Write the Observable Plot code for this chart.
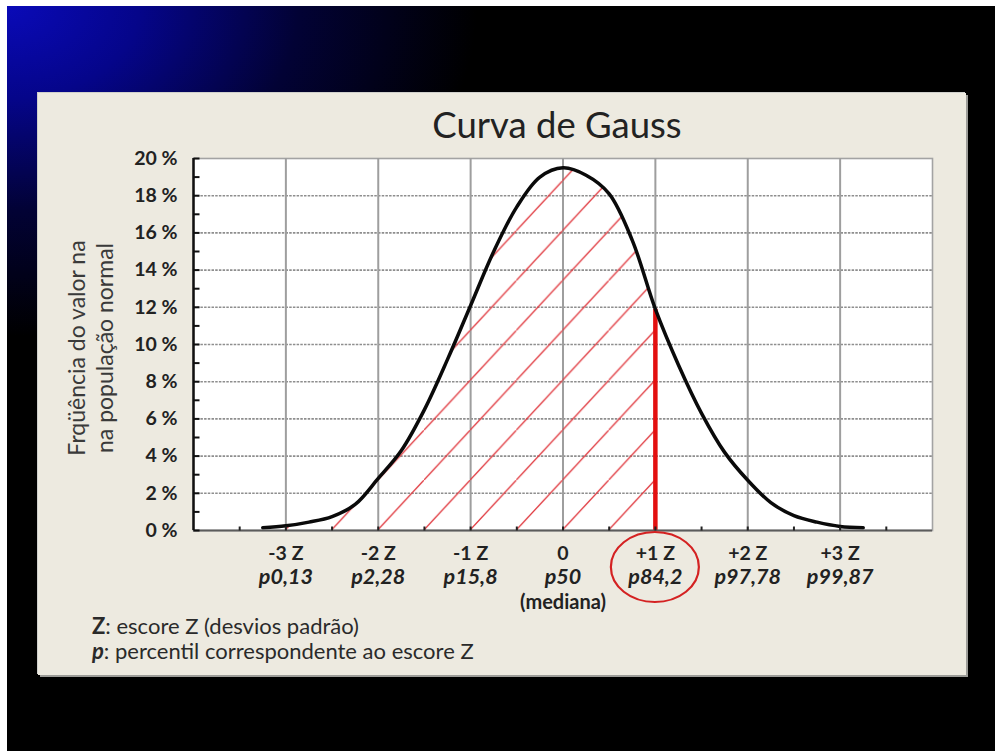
<!DOCTYPE html>
<html><head><meta charset="utf-8">
<script src="https://cdn.jsdelivr.net/npm/d3@7"></script>
<script src="https://cdn.jsdelivr.net/npm/@observablehq/plot@0.6"></script>
<style>
html,body{margin:0;padding:0;background:#fff;}
#root{position:relative;width:995px;height:751px;overflow:hidden;font-family:Lato,"Open Sans",sans-serif;}
#slide{position:absolute;left:7px;top:6px;right:0;bottom:0;background:radial-gradient(ellipse 470px 330px at 0% 0%, #0a0ab8 0%, #05058a 28%, #020235 62%, #000 100%);}
#panel{position:absolute;left:38px;top:93px;width:928px;height:582px;background:#edeae0;box-shadow:2px 2px 0 #9c9c98, -1px -1px 0 #d0d0cc;}
#title{position:absolute;left:187px;width:740px;top:103px;text-align:center;font-size:36.5px;color:#222;line-height:42px;}
#ytitle{position:absolute;left:90px;top:348px;transform:translate(-50%,-50%) rotate(-90deg);white-space:nowrap;text-align:center;font-size:23px;line-height:28px;color:#3a3a3a;}
#notes{position:absolute;left:92px;top:613px;font-size:22px;line-height:25px;color:#2a2a2a;}
#chart{position:absolute;left:0;top:0;}
</style></head>
<body>
<div id="root">
  <div id="slide"></div>
  <div id="panel"></div>
  <div id="title">Curva de Gauss</div>
  <div id="ytitle">Frqüência do valor na<br>na população normal</div>
  <div id="notes"><b>Z</b>: escore Z (desvios padrão)<br><b><i>p</i></b>: percentil correspondente ao escore Z</div>
  <div id="chart"></div>
</div>
<script>
// curve: z score vs frequency (%)
const zScores = [-3.25,-3,-2.75,-2.5,-2.25,-2,-1.75,-1.5,-1.25,-1,-0.75,-0.5,-0.25,0,0.25,0.5,0.75,1,1.25,1.5,1.75,2,2.25,2.5,2.75,3,3.25];
const freqPct = [0.15,0.25,0.45,0.75,1.4,2.8,4.3,6.5,9.2,12.1,15.0,17.4,19.0,19.5,19.1,18.1,15.6,11.9,8.9,6.3,4.2,2.7,1.5,0.8,0.45,0.22,0.15];
const markedZ = 1;
const xGrid = [-3,-2,-1,0,1,2,3];
const xMinor = [-3.5,-3,-2.5,-2,-1.5,-1,-0.5,0,0.5,1,1.5,2,2.5,3,3.5];
const yTicks = [0,2,4,6,8,10,12,14,16,18,20];
const yGrid = [2,4,6,8,10,12,14,16,18];
const yMinor = [0,1,2,3,4,5,6,7,8,9,10,11,12,13,14,15,16,17,18,19,20];
const zLabels = ["-3 Z","-2 Z","-1 Z","0","+1 Z","+2 Z","+3 Z"];
const pLabels = ["p0,13","p2,28","p15,8","p50","p84,2","p97,78","p99,87"];
const medianNote = "(mediana)";

const curve = zScores.map((z,i)=>({z, p: freqPct[i]}));
const shaded = curve.filter(d => d.z <= markedZ);
const markedP = curve.find(d => d.z === markedZ).p;
const labels = xGrid.map((z,i)=>({z, zl: zLabels[i], pl: pLabels[i]}));

const hTick = {draw(ctx){ ctx.moveTo(0,0); ctx.lineTo(6,0); }};
const vTick = {draw(ctx){ ctx.moveTo(0,0); ctx.lineTo(0,-4); }};

const plot = Plot.plot({
  width: 995, height: 751,
  marginLeft: 193, marginRight: 63, marginTop: 158, marginBottom: 221,
  x: {domain: [-4, 4], axis: null},
  y: {domain: [0, 20], axis: null},
  style: {background: "transparent", fontFamily: "Lato, 'Open Sans', sans-serif", overflow: "visible"},
  marks: [
    Plot.frame({fill: "white", stroke: "#a3a3a3", strokeWidth: 1.6}),
    Plot.ruleY(yGrid, {stroke: "#8e8e8e", strokeWidth: 1.6, strokeDasharray: "2.5,1.2"}),
    Plot.ruleX(xGrid, {stroke: "#9e9e9e", strokeWidth: 2}),
    Plot.areaY(shaded, {x: "z", y: "p", fill: "url(#hatch)", curve: "catmull-rom"}),
    Plot.ruleX([markedZ], {y1: 0, y2: markedP, stroke: "#e31010", strokeWidth: 4.5}),
    Plot.line(curve, {x: "z", y: "p", stroke: "#0a0a0a", strokeWidth: 3.5, curve: "catmull-rom"}),
    Plot.ruleY([0], {stroke: "#5c5c5c", strokeWidth: 2.2}),
    Plot.dot(xMinor, {x: d => d, y: () => 0, symbol: vTick, stroke: "#222", strokeWidth: 2, r: 3}),
    Plot.ruleX([-4], {stroke: "#111", strokeWidth: 2.5}),
    Plot.dot(yMinor, {x: () => -4, y: d => d, symbol: hTick, stroke: "#111", strokeWidth: 2, r: 3}),
    Plot.text(yTicks, {x: () => -4, y: d => d, text: d => `${d} %`, textAnchor: "end", dx: -16, fontSize: 19.5, fontWeight: "bold", fill: "#222"}),
    Plot.text(labels, {x: "z", y: () => 0, text: "zl", dy: 23, fontSize: 19.5, fontWeight: "bold", fill: "#222"}),
    Plot.text(labels, {x: "z", y: () => 0, text: "pl", dy: 47, fontSize: 21.5, fontWeight: "bold", fontStyle: "italic", fill: "#222"}),
    Plot.text([medianNote], {x: () => 0, y: () => 0, text: d => d, dy: 72, fontSize: 20, fontWeight: "bold", fill: "#222"})
  ]
});

const xs = plot.scale("x"), ys = plot.scale("y");
const step = xs.apply(0.5) - xs.apply(0);
const ph = step * 1.08;
const svg = d3.select(plot);
const defs = svg.insert("defs", ":first-child");
const pat = defs.append("pattern").attr("id", "hatch").attr("patternUnits", "userSpaceOnUse")
  .attr("width", step).attr("height", ph)
  .attr("patternTransform", `translate(${xs.apply(-2.5)},${ys.apply(0)})`);
pat.append("line").attr("x1", -1).attr("y1", ph + 1.08).attr("x2", step + 1).attr("y2", -1.08)
  .attr("stroke", "#e0393f").attr("stroke-width", 1.3);
svg.append("ellipse").attr("cx", xs.apply(markedZ)).attr("cy", ys.apply(0) + 37)
  .attr("rx", 44).attr("ry", 35).attr("fill", "none").attr("stroke", "#d42222").attr("stroke-width", 2.2);

document.getElementById("chart").appendChild(plot);
</script>
</body></html>
